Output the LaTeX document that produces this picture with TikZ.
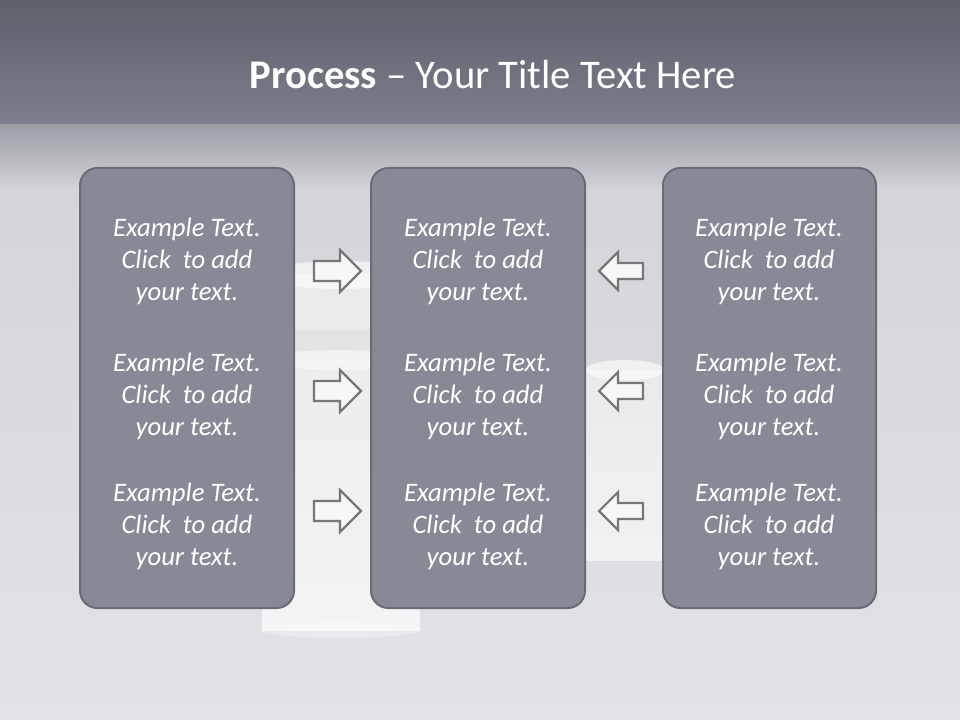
\documentclass[tikz,border=0pt]{standalone}
\usepackage{fontspec}
\setmainfont{Carlito}

\definecolor{bandtop}{HTML}{5C606B}
\definecolor{bandbot}{HTML}{7C808C}
\definecolor{floortop}{HTML}{9A9DA4}
\definecolor{floormid}{HTML}{D4D5D9}
\definecolor{floorbot}{HTML}{E2E3E6}
\definecolor{panelfill}{HTML}{878A96}
\definecolor{paneledge}{HTML}{696C76}
\definecolor{arrowedge}{HTML}{777777}

\begin{document}
\begin{tikzpicture}[x=0.75pt, y=-0.75pt,
    panel/.style={fill=panelfill, draw=paneledge, line width=1.5pt, rounded corners=13pt},
    itemtext/.style={text=white, align=center, font=\fontsize{20}{24}\selectfont\itshape},
    pointer/.style={draw=arrowedge, fill=white!94!gray, line width=1.6pt, line join=miter}]
    % background
    \useasboundingbox (0,0) rectangle (960,720);
    \shade[top color=bandtop, bottom color=bandbot] (0,0) rectangle (960,125);
    \shade[top color=floortop, bottom color=floormid] (0,125) rectangle (960,190);
    \shade[top color=floormid, bottom color=floorbot] (0,190) rectangle (960,720);
    % white cylinders behind
    \shade[top color=white!92!gray, bottom color=white, opacity=0.65] (262,275) rectangle (420,630);
    \fill[white, opacity=0.6] (341,275) ellipse [x radius=79, y radius=14];
    \fill[gray, opacity=0.08] (262,330) rectangle (420,360);
    \fill[white, opacity=0.5] (341,360) ellipse [x radius=79, y radius=10];
    \fill[white, opacity=0.3] (341,630) ellipse [x radius=79, y radius=8];
    \shade[top color=white!92!gray, bottom color=white, opacity=0.6] (585,370) rectangle (665,560);
    \fill[white, opacity=0.6] (625,370) ellipse [x radius=40, y radius=10];
    % title
    \node[text=white, font=\fontsize{30.5}{36}\selectfont] (title) at (493,75)
        {\textbf{Process} -- Your Title Text Here};
    % panels
    \draw[panel] (80,168) rectangle (294,608);
    \draw[panel] (371,168) rectangle (585,608);
    \draw[panel] (663,168) rectangle (876,608);
    % texts
    \foreach \col/\cx in {l/187, m/478, r/769} {
      \foreach \row/\cy in {1/261, 2/396, 3/526} {
        \node[itemtext] (t\col\row) at (\cx,\cy)
            {Example Text.\\Click\ \ to add\\your text.};
      }
    }
    % arrows
    \foreach \cy in {271, 391, 511} {
      \draw[pointer] (314,\cy-10) -- (340,\cy-10) -- (340,\cy-21) -- (361,\cy)
        -- (340,\cy+21) -- (340,\cy+10) -- (314,\cy+10) -- cycle;
      \draw[pointer] (643,\cy-8) -- (618,\cy-8) -- (618,\cy-19) -- (599,\cy)
        -- (618,\cy+19) -- (618,\cy+8) -- (643,\cy+8) -- cycle;
    }
\end{tikzpicture}
\end{document}
